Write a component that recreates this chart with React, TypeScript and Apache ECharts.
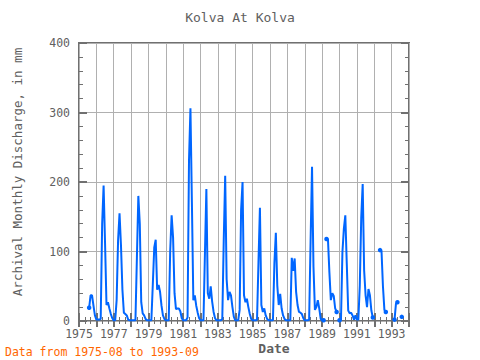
import React, { useEffect, useRef } from "react";
import * as echarts from "echarts";

// Monthly discharge (mm), Jan..Dec, null = no data
const y1975 = [null, null, null, null, null, null, null, 19, 37, 37, 22, 8];
const y1976 = [2, 2, 2, 3, 140, 195, 112, 23, 27, 18, 10, 4];
const y1977 = [1, 1, 30, 116, 155, 109, 45, 12, 10, 8, 2, 1];
const y1978 = [1, 1, 1, 1, 91, 180, 140, 27, 11, 8, 3, 1];
const y1979 = [1, 1, 1, 53, 106, 117, 45, 52, 42, 22, 8, 3];
const y1980 = [1, 1, 1, 100, 152, 120, 40, 17, 18, 18, 14, 4];
const y1981 = [1, 1, 1, 5, 231, 306, 171, 30, 37, 22, 12, 4];
const y1982 = [1, 1, 1, 96, 190, 40, 32, 50, 28, 13, 4, 1];
const y1983 = [1, 1, 1, 3, 116, 209, 60, 30, 42, 37, 20, 6];
const y1984 = [1, 1, 1, 16, 160, 200, 37, 27, 32, 20, 10, 3];
const y1985 = [1, 1, 1, 2, 85, 163, 23, 13, 18, 8, 3, 1];
const y1986 = [1, 1, 1, 83, 127, 51, 23, 39, 18, 8, 3, 1];
const y1987 = [1, 1, 1, 91, 72, 90, 42, 23, 13, 12, 10, 4];
const y1988 = [1, 1, 1, 2, 114, 222, 78, 16, 20, 30, 18, 3];
const y1989 = [1, 1, null, 118, 118, 70, 30, 40, 36, 18, 13, null];
const y1990 = [1, 1, 99, 133, 152, 83, 15, 11, 12, 8, 2, 8];
const y1991 = [2, 2, 51, 149, 197, 73, 37, 20, 46, 37, 15, 5];
const y1992 = [null, null, null, null, 102, 101, 50, 16, 13, null, null, null];
const y1993 = [null, null, 2, 25, 27, null, null, 6, null, null, null, null];

const years = [1975, 1976, 1977, 1978, 1979, 1980, 1981, 1982, 1983, 1984, 1985, 1986, 1987, 1988, 1989, 1990, 1991, 1992, 1993];
const yearValues = [y1975, y1976, y1977, y1978, y1979, y1980, y1981, y1982, y1983, y1984, y1985, y1986, y1987, y1988, y1989, y1990, y1991, y1992, y1993];

const TITLE = "Kolva At Kolva";
const Y_NAME = "Archival Monthly Discharge, in mm";
const X_NAME = "Date";
const NOTE = "Data from 1975-08 to 1993-09";

export default function App() {
  const ref = useRef<HTMLDivElement>(null);
  useEffect(() => {
    document.body.style.margin = "0";
    if (!ref.current) return;
    const chart = echarts.init(ref.current, null, { renderer: "svg" });
    const data: any[] = [];
    let started = false;
    years.forEach((y, i) => {
      yearValues[i].forEach((v, m) => {
        if (v === null && !started) return;
        started = true;
        data.push([y + m / 12, v === null ? null : v]);
      });
    });
    const isEnd = (i: number) => {
      const v = data[i][1];
      if (v === null) return false;
      const prev = i > 0 ? data[i - 1][1] : null;
      const next = i < data.length - 1 ? data[i + 1][1] : null;
      return prev === null || next === null;
    };
    const font = "DejaVu Sans Mono";
    const grey = "#606060";
    const axisCol = "#707070";
    const common = {
      type: "value" as const,
      min: 1975,
      max: 1994,
      interval: 1,
    };
    const option: any = {
      animation: false,
      grid: {
        left: 79, right: 71, top: 43, bottom: 39,
        show: true, borderColor: axisCol, borderWidth: 2,
        backgroundColor: "transparent",
      },
      xAxis: [
        {
          ...common,
          position: "bottom",
          axisLine: { show: false },
          axisTick: { show: true, inside: true, length: 8, lineStyle: { color: axisCol, width: 2 } },
          minorTick: { show: true, splitNumber: 3, length: 4, lineStyle: { color: axisCol, width: 1 } },
          splitLine: { show: true, lineStyle: { color: "#b0b0b0", width: 1 } },
          axisLabel: {
            color: grey, fontFamily: font, fontSize: 11.5, margin: 7,
            formatter: (v: number) => (Math.round(v) % 2 === 1 ? String(Math.round(v)) : ""),
          },
        },
        {
          ...common,
          position: "top",
          axisLine: { show: false },
          axisTick: { show: true, inside: true, length: 6, lineStyle: { color: axisCol, width: 2 } },
          minorTick: { show: true, splitNumber: 3, length: 3, lineStyle: { color: axisCol, width: 1 } },
          splitLine: { show: false },
          axisLabel: { show: false },
        },
      ],
      yAxis: [
        {
          type: "value", min: 0, max: 400, interval: 100, position: "left",
          axisLine: { show: false },
          axisTick: { show: true, inside: true, length: 8, lineStyle: { color: axisCol, width: 2 } },
          minorTick: { show: true, splitNumber: 5, length: 4, lineStyle: { color: axisCol, width: 1 } },
          splitLine: { show: true, lineStyle: { color: "#b0b0b0", width: 1 } },
          axisLabel: { color: grey, fontFamily: font, fontSize: 11.5, margin: 9 },
        },
        {
          type: "value", min: 0, max: 400, interval: 100, position: "right",
          axisLine: { show: false },
          axisTick: { show: true, inside: true, length: 8, lineStyle: { color: axisCol, width: 2 } },
          minorTick: { show: true, splitNumber: 5, length: 4, lineStyle: { color: axisCol, width: 1 } },
          splitLine: { show: false },
          axisLabel: { show: false },
        },
      ],
      graphic: [
        {
          type: "text", left: "center", top: 11,
          style: { text: TITLE, fill: grey, font: `13px "${font}"` },
        },
        {
          type: "text", x: 17, y: 172, rotation: Math.PI / 2,
          style: { text: Y_NAME, fill: grey, font: `12.5px "${font}"`, align: "center", verticalAlign: "middle" },
        },
        {
          type: "text", x: 274, y: 348,
          style: { text: X_NAME, fill: grey, font: `bold 13px "${font}"`, align: "center", verticalAlign: "middle" },
        },
        {
          type: "text", x: 5, y: 352,
          style: { text: NOTE, fill: "#ff6600", font: `11.5px "${font}"`, align: "left", verticalAlign: "middle" },
        },
      ],
      series: [
        {
          type: "line",
          xAxisIndex: 0,
          yAxisIndex: 0,
          data,
          connectNulls: false,
          showSymbol: true,
          symbol: "circle",
          symbolSize: (_v: any, p: any) => (isEnd(p.dataIndex) ? 4.5 : 0),
          lineStyle: { color: "#0066ff", width: 2 },
          itemStyle: { color: "#0066ff" },
        },
      ],
    };
    chart.setOption(option);
    return () => chart.dispose();
  }, []);
  return <div ref={ref} style={{ width: 480, height: 360 }} />;
}
